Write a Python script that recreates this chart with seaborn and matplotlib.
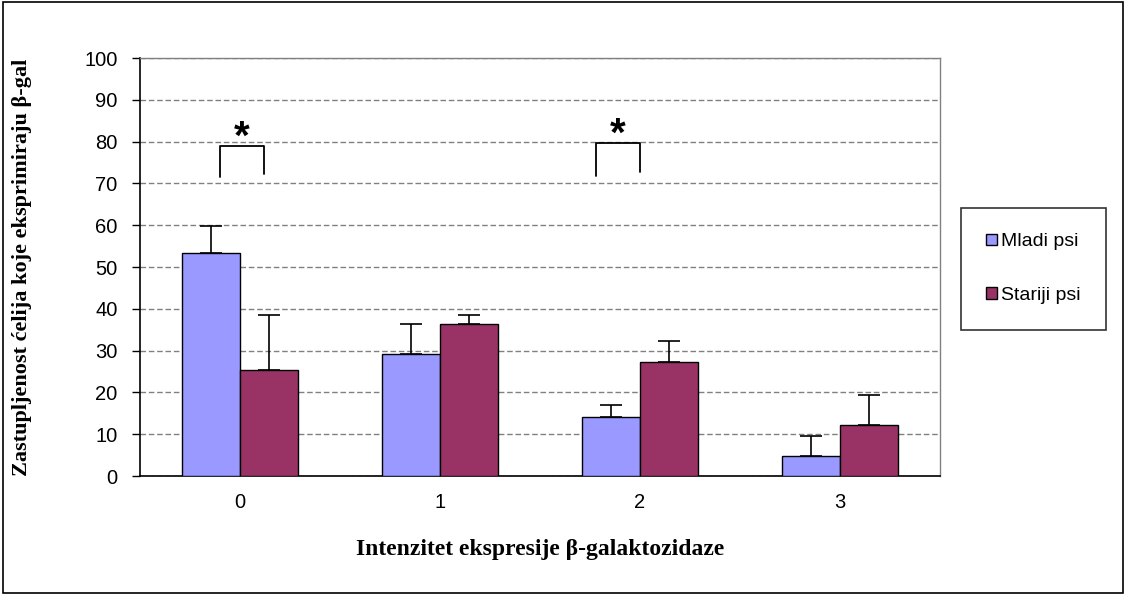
import matplotlib
matplotlib.use("Agg")
import matplotlib.pyplot as plt
import seaborn as sns
import pandas as pd
from matplotlib.patches import Rectangle, Patch

# intensity categories and group means / upper error
categories = ["0", "1", "2", "3"]
groups = ["Mladi psi", "Stariji psi"]
mladi = [53.3, 29.3, 14.0, 4.8]
stariji = [25.4, 36.3, 27.2, 12.3]
mladi_err = [6.5, 7.0, 3.1, 4.8]
stariji_err = [13.1, 2.1, 5.1, 7.0]

# significance brackets: (left x, right x, left bottom, right bottom, top)
brackets = [(-0.10, 0.12, 71.5, 72.2, 78.9), (1.78, 2.00, 71.8, 72.7, 79.7)]

colors = ["#9999FF", "#993366"]

df = pd.DataFrame({
    "kategorija": categories * 2,
    "grupa": [groups[0]] * 4 + [groups[1]] * 4,
    "vrijednost": mladi + stariji,
})

sns.set_style("white")
plt.rcParams["font.family"] = ["Liberation Sans", "DejaVu Sans"]
for key in ["text.color", "axes.labelcolor", "xtick.color", "ytick.color"]:
    plt.rcParams[key] = "black"
serif = ["Liberation Serif", "DejaVu Serif"]

fig = plt.figure(figsize=(11.26, 5.95), dpi=100)
ax = fig.add_axes([0.1243, 0.2, 0.7105, 0.7025])

sns.barplot(data=df, x="kategorija", y="vrijednost", hue="grupa",
            palette=colors, saturation=1, width=0.58, edgecolor="black",
            linewidth=1, ax=ax, legend=False, zorder=3)

# one-sided error bars
for cont, errs in zip(ax.containers, [mladi_err, stariji_err]):
    for rect, e in zip(cont, errs):
        xc = rect.get_x() + rect.get_width() / 2
        ax.errorbar(xc, rect.get_height(), yerr=[[0], [e]], fmt="none",
                    ecolor="black", elinewidth=1.2, capsize=8, capthick=1.2,
                    zorder=4)

# significance marks
for xl, xr, yl, yr, yt in brackets:
    ax.plot([xl, xl, xr, xr], [yl, yt, yt, yr], color="black", lw=1.3,
            zorder=4)
    ax.text((xl + xr) / 2, yt - 0.6, "*", ha="center", va="baseline",
            fontsize=29, fontweight="bold")

ax.set_xlim(-0.5, 3.5)
ax.set_ylim(0, 100)
ax.set_yticks(range(0, 101, 10))
ax.yaxis.grid(True, linestyle=(0, (4, 2)), color="#808080", lw=1)
ax.set_axisbelow(True)

ax.set_xticks(range(4))
ax.set_xticklabels(categories)
ax.set_xticks([-0.5, 0.5, 1.5, 2.5, 3.5], minor=True)
ax.tick_params(axis="x", which="major", length=0, pad=12, labelsize=14.5)
ax.tick_params(axis="x", which="minor", length=6, width=1, color="black",
               direction="out")
ax.tick_params(axis="y", length=6, width=1, color="black", direction="out",
               pad=10, labelsize=14.5, left=True)

for side in ["left", "bottom"]:
    ax.spines[side].set_color("black")
    ax.spines[side].set_linewidth(1.2)
for side in ["top", "right"]:
    ax.spines[side].set_color("#808080")
    ax.spines[side].set_linewidth(1)
    ax.spines[side].set_visible(True)

ax.set_xlabel("Intenzitet ekspresije β-galaktozidaze", fontsize=17,
              fontweight="bold", family=serif)
ax.set_ylabel("Zastupljenost ćelija koje eksprimiraju β-gal", fontsize=16,
              fontweight="bold", family=serif)
ax.xaxis.set_label_coords(0.5, -0.177)
ax.yaxis.set_label_coords(-0.1475, 0.5)
ax.xaxis.label.set_va("center")
ax.yaxis.label.set_va("center")

handles = [Patch(facecolor=c, edgecolor="black", lw=1) for c in colors]
leg = fig.legend(handles, groups, loc="upper left",
                 bbox_to_anchor=(961 / 1126, 1 - 208 / 595),
                 frameon=True, fancybox=False, edgecolor="black",
                 fontsize=14, handlelength=0.55, handleheight=0.55,
                 handletextpad=0.2, labelspacing=1.9, borderpad=1.3,
                 borderaxespad=0)
leg.get_frame().set_linewidth(1.2)

# outer chart border
fig.patches.append(Rectangle((0.003, 0.003), 0.994, 0.994,
                             transform=fig.transFigure, fill=False,
                             edgecolor="black", lw=1.2))

fig.savefig("out.png", dpi=100)
